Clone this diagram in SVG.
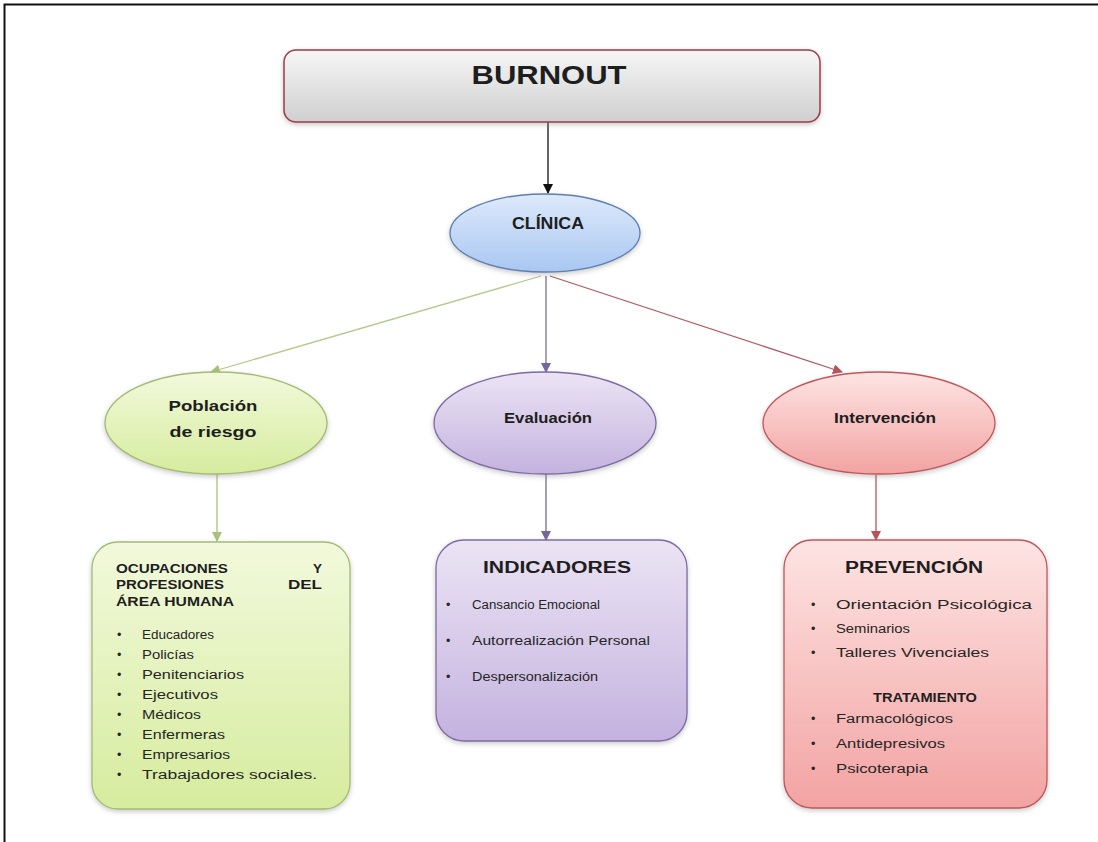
<svg xmlns="http://www.w3.org/2000/svg" width="1098" height="842" viewBox="0 0 1098 842">
<style>
.t{font-family:"Liberation Sans",Arial,sans-serif;fill:#1e1e1e}
.b{font-weight:bold}
.item{font-size:12.5px;fill:#262626}
.head{font-size:13.5px;font-weight:bold}
.conn{fill:none;stroke-width:1.3}
</style>
<defs>
<linearGradient id="gGray" x1="0" y1="0" x2="0" y2="1"><stop offset="0" stop-color="#f6f6f6"/><stop offset="1" stop-color="#cfcfcf"/></linearGradient>
<linearGradient id="gBlue" x1="0" y1="0" x2="0" y2="1"><stop offset="0" stop-color="#dde9fb"/><stop offset="1" stop-color="#a9c7f1"/></linearGradient>
<linearGradient id="gGreen" x1="0" y1="0" x2="0" y2="1"><stop offset="0" stop-color="#f2f9dc"/><stop offset="1" stop-color="#d6ec9e"/></linearGradient>
<linearGradient id="gPurple" x1="0" y1="0" x2="0" y2="1"><stop offset="0" stop-color="#ebe4f4"/><stop offset="1" stop-color="#c4b2df"/></linearGradient>
<linearGradient id="gRed" x1="0" y1="0" x2="0" y2="1"><stop offset="0" stop-color="#fde4e3"/><stop offset="1" stop-color="#f2a3a2"/></linearGradient>
<filter id="sh" x="-10%" y="-10%" width="120%" height="125%"><feDropShadow dx="0" dy="2" stdDeviation="2.5" flood-color="#888" flood-opacity="0.45"/></filter>
<marker id="aBlack" markerWidth="10" markerHeight="10" refX="9" refY="5" orient="auto" markerUnits="userSpaceOnUse"><path d="M0,0 L10,5 L0,10 z" fill="#111"/></marker>
<marker id="aGreen" markerWidth="10" markerHeight="10" refX="9" refY="5" orient="auto" markerUnits="userSpaceOnUse"><path d="M0,0 L10,5 L0,10 z" fill="#a9c27a"/></marker>
<marker id="aPurple" markerWidth="10" markerHeight="10" refX="9" refY="5" orient="auto" markerUnits="userSpaceOnUse"><path d="M0,0 L10,5 L0,10 z" fill="#76679a"/></marker>
<marker id="aRed" markerWidth="10" markerHeight="10" refX="9" refY="5" orient="auto" markerUnits="userSpaceOnUse"><path d="M0,0 L10,5 L0,10 z" fill="#b5545a"/></marker>
</defs>
<rect width="1098" height="842" fill="#ffffff"/>
<path d="M4.5,842 V4.5 H1098" fill="none" stroke="#111" stroke-width="2"/>

<g id="connectors">
<line class="conn" x1="548" y1="122" x2="548" y2="193" stroke="#111" marker-end="url(#aBlack)"/>
<line class="conn" x1="541" y1="276" x2="211" y2="372" stroke="#b4c98a" marker-end="url(#aGreen)"/>
<line class="conn" x1="546" y1="276" x2="546" y2="372" stroke="#7a6d9c" marker-end="url(#aPurple)"/>
<line class="conn" x1="550" y1="276" x2="842" y2="372" stroke="#b55a60" marker-end="url(#aRed)"/>
<line class="conn" x1="217" y1="474" x2="217" y2="541" stroke="#a9c27a" marker-end="url(#aGreen)"/>
<line class="conn" x1="546" y1="474" x2="546" y2="540" stroke="#76679a" marker-end="url(#aPurple)"/>
<line class="conn" x1="876" y1="475" x2="876" y2="540" stroke="#b5545a" marker-end="url(#aRed)"/>
</g>

<g id="burnout">
<rect x="284" y="50" width="536" height="72" rx="12" fill="url(#gGray)" stroke="#9b3a48" stroke-width="1.5" filter="url(#sh)"/>
<text class="t b" x="549" y="84" font-size="26" text-anchor="middle" textLength="155" lengthAdjust="spacingAndGlyphs">BURNOUT</text>
</g>

<g id="clinica">
<ellipse cx="545" cy="233" rx="95" ry="39" fill="url(#gBlue)" stroke="#5f7fb0" stroke-width="1.3" filter="url(#sh)"/>
<text class="t b" x="548" y="229" font-size="16" text-anchor="middle" fill="#2a3340" textLength="72" lengthAdjust="spacingAndGlyphs">CLÍNICA</text>
</g>

<g id="poblacion">
<ellipse cx="216" cy="423" rx="111" ry="51" fill="url(#gGreen)" stroke="#a3bc74" stroke-width="1.3" filter="url(#sh)"/>
<text class="t b" x="213" y="411" font-size="15.5" text-anchor="middle" textLength="89" lengthAdjust="spacingAndGlyphs">Población</text>
<text class="t b" x="213" y="437" font-size="15.5" text-anchor="middle" textLength="87" lengthAdjust="spacingAndGlyphs">de riesgo</text>
</g>

<g id="evaluacion">
<ellipse cx="545" cy="423" rx="111" ry="51" fill="url(#gPurple)" stroke="#7f6ba3" stroke-width="1.3" filter="url(#sh)"/>
<text class="t b" x="548" y="423" font-size="15" text-anchor="middle" textLength="88" lengthAdjust="spacingAndGlyphs">Evaluación</text>
</g>

<g id="intervencion">
<ellipse cx="879" cy="423" rx="116" ry="51" fill="url(#gRed)" stroke="#c0565a" stroke-width="1.3" filter="url(#sh)"/>
<text class="t b" x="885" y="423" font-size="15" text-anchor="middle" textLength="102" lengthAdjust="spacingAndGlyphs">Intervención</text>
</g>

<g id="ocupaciones">
<rect x="92" y="542" width="258" height="267" rx="26" fill="url(#gGreen)" stroke="#a3bc74" stroke-width="1.3" filter="url(#sh)"/>
<text class="t head" x="116" y="573" textLength="112" lengthAdjust="spacingAndGlyphs">OCUPACIONES</text>
<text class="t head" x="322" y="573" text-anchor="end">Y</text>
<text class="t head" x="116" y="589" textLength="108" lengthAdjust="spacingAndGlyphs">PROFESIONES</text>
<text class="t head" x="322" y="589" text-anchor="end" textLength="34" lengthAdjust="spacingAndGlyphs">DEL</text>
<text class="t head" x="116" y="606" textLength="118" lengthAdjust="spacingAndGlyphs">ÁREA HUMANA</text>
<g class="t item">
<text x="117" y="639">•</text><text x="142" y="639" textLength="72" lengthAdjust="spacingAndGlyphs">Educadores</text>
<text x="117" y="659">•</text><text x="142" y="659" textLength="52" lengthAdjust="spacingAndGlyphs">Policías</text>
<text x="117" y="679">•</text><text x="142" y="679" textLength="102" lengthAdjust="spacingAndGlyphs">Penitenciarios</text>
<text x="117" y="699">•</text><text x="142" y="699" textLength="76" lengthAdjust="spacingAndGlyphs">Ejecutivos</text>
<text x="117" y="719">•</text><text x="142" y="719" textLength="59" lengthAdjust="spacingAndGlyphs">Médicos</text>
<text x="117" y="739">•</text><text x="142" y="739" textLength="83" lengthAdjust="spacingAndGlyphs">Enfermeras</text>
<text x="117" y="759">•</text><text x="142" y="759" textLength="88" lengthAdjust="spacingAndGlyphs">Empresarios</text>
<text x="117" y="779">•</text><text x="142" y="779" textLength="175" lengthAdjust="spacingAndGlyphs">Trabajadores  sociales.</text>
</g>
</g>

<g id="indicadores">
<rect x="436" y="540" width="251" height="201" rx="28" fill="url(#gPurple)" stroke="#7f6ba3" stroke-width="1.3" filter="url(#sh)"/>
<text class="t b" x="557" y="573" font-size="16" text-anchor="middle" textLength="148" lengthAdjust="spacingAndGlyphs">INDICADORES</text>
<g class="t item">
<text x="446" y="609">•</text><text x="472" y="609" textLength="128" lengthAdjust="spacingAndGlyphs">Cansancio Emocional</text>
<text x="446" y="645">•</text><text x="472" y="645" textLength="178" lengthAdjust="spacingAndGlyphs">Autorrealización  Personal</text>
<text x="446" y="681">•</text><text x="472" y="681" textLength="126" lengthAdjust="spacingAndGlyphs">Despersonalización</text>
</g>
</g>

<g id="prevencion">
<rect x="784" y="540" width="263" height="268" rx="28" fill="url(#gRed)" stroke="#c0565a" stroke-width="1.3" filter="url(#sh)"/>
<text class="t b" x="914" y="573" font-size="16" text-anchor="middle" textLength="138" lengthAdjust="spacingAndGlyphs">PREVENCIÓN</text>
<g class="t item">
<text x="811" y="609">•</text><text x="836" y="609" textLength="196" lengthAdjust="spacingAndGlyphs">Orientación Psicológica</text>
<text x="811" y="633">•</text><text x="836" y="633" textLength="74" lengthAdjust="spacingAndGlyphs">Seminarios</text>
<text x="811" y="657">•</text><text x="836" y="657" textLength="153" lengthAdjust="spacingAndGlyphs">Talleres Vivenciales</text>
</g>
<text class="t b" x="925" y="702" font-size="13.5" text-anchor="middle" textLength="104" lengthAdjust="spacingAndGlyphs">TRATAMIENTO</text>
<g class="t item">
<text x="811" y="723">•</text><text x="836" y="723" textLength="117" lengthAdjust="spacingAndGlyphs">Farmacológicos</text>
<text x="811" y="748">•</text><text x="836" y="748" textLength="109" lengthAdjust="spacingAndGlyphs">Antidepresivos</text>
<text x="811" y="773">•</text><text x="836" y="773" textLength="92" lengthAdjust="spacingAndGlyphs">Psicoterapia</text>
</g>
</g>
</svg>
